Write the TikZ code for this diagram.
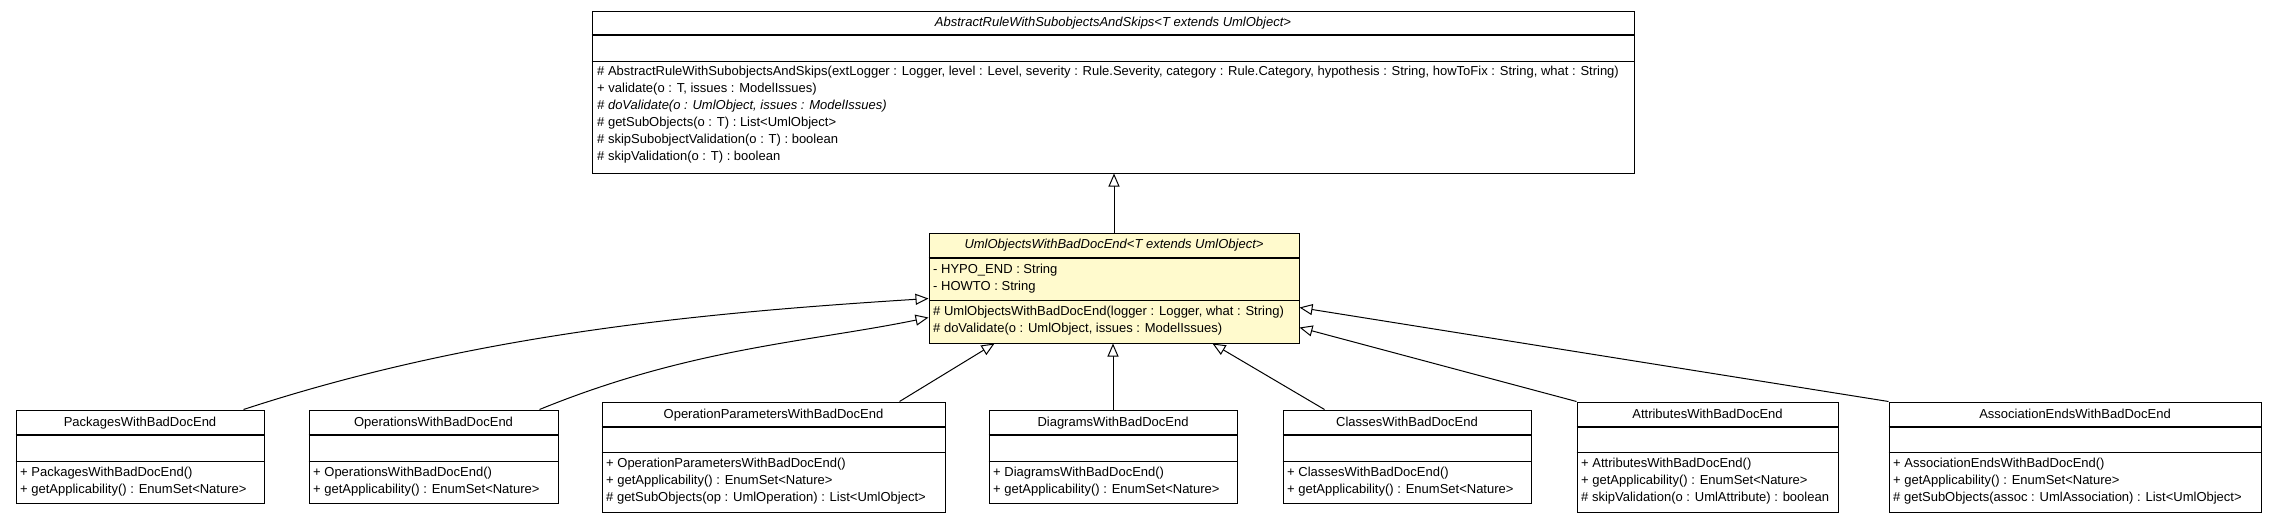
\documentclass[tikz,border=0pt]{standalone}
\usepackage{fontspec}
\setmainfont{Liberation Sans}
\usetikzlibrary{arrows.meta}
\definecolor{lemon}{HTML}{FFFACD}
\tikzset{
  cls/.style={draw=black, line width=1pt, inner sep=0pt, fill=white},
  septhick/.style={line width=1.6pt},
  septhin/.style={line width=1pt},
  txt/.style={font=\fontsize{13}{15}\selectfont, inner sep=0pt, text height=9.8pt, text depth=2.7pt},
  ttl/.style={txt},
  mem/.style={txt, anchor=west},
  gen/.style={line width=1pt, -{Triangle[open, length=13pt, width=11pt, fill=white]}},
}
\begin{document}
\begin{tikzpicture}[x=1pt, y=-1pt]
\useasboundingbox (0,0) rectangle (2278,523);

% ---------- top abstract class ----------
\node[cls, minimum width=1042pt, minimum height=162pt] (A) at (1113,92) {};
\draw[septhick] (A.west |- 0,35) -- (A.east |- 0,35);
\draw[septhin] (A.west |- 0,61) -- (A.east |- 0,61);
\node[ttl] (At) at (1113,23) {\itshape AbstractRuleWithSubobjectsAndSkips<T extends UmlObject>};
\node[mem] (A1) at (597,72) {\# AbstractRuleWithSubobjectsAndSkips(extLogger : Logger, level : Level, severity : Rule.Severity, category : Rule.Category, hypothesis : String, howToFix : String, what : String)};
\node[mem] (A2) at (597,89) {+ validate(o : T, issues : ModelIssues)};
\node[mem] (A3) at (597,106) {\itshape \# doValidate(o : UmlObject, issues : ModelIssues)};
\node[mem] (A4) at (597,123) {\# getSubObjects(o : T) : List<UmlObject>};
\node[mem] (A5) at (597,140) {\# skipSubobjectValidation(o : T) : boolean};
\node[mem] (A6) at (597,157) {\# skipValidation(o : T) : boolean};

% ---------- middle class ----------
\node[cls, fill=lemon, minimum width=370pt, minimum height=110pt] (M) at (1114,288) {};
\draw[septhick] (M.west |- 0,258) -- (M.east |- 0,258);
\draw[septhin] (M.west |- 0,300) -- (M.east |- 0,300);
\node[ttl] (Mt) at (1114,245) {\itshape UmlObjectsWithBadDocEnd<T extends UmlObject>};
\node[mem] (M1) at (933,270) {- HYPO\_END : String};
\node[mem] (M2) at (933,287) {- HOWTO : String};
\node[mem] (M3) at (933,312) {\# UmlObjectsWithBadDocEnd(logger : Logger, what : String)};
\node[mem] (M4) at (933,329) {\# doValidate(o : UmlObject, issues : ModelIssues)};

% ---------- PackagesWithBadDocEnd ----------
\node[cls, minimum width=248pt, minimum height=93pt] (P) at (140,456.5) {};
\draw[septhick] (P.west |- 0,435) -- (P.east |- 0,435);
\draw[septhin] (P.west |- 0,461) -- (P.east |- 0,461);
\node[ttl] (Pt) at (140,422.5) {PackagesWithBadDocEnd};
\node[mem] (P1) at (20,473) {+ PackagesWithBadDocEnd()};
\node[mem] (P2) at (20,490) {+ getApplicability() : EnumSet<Nature>};

% ---------- OperationsWithBadDocEnd ----------
\node[cls, minimum width=249pt, minimum height=93pt] (O) at (433.5,456.5) {};
\draw[septhick] (O.west |- 0,435) -- (O.east |- 0,435);
\draw[septhin] (O.west |- 0,461) -- (O.east |- 0,461);
\node[ttl] (Ot) at (433.5,422.5) {OperationsWithBadDocEnd};
\node[mem] (O1) at (313,473) {+ OperationsWithBadDocEnd()};
\node[mem] (O2) at (313,490) {+ getApplicability() : EnumSet<Nature>};

% ---------- OperationParametersWithBadDocEnd ----------
\node[cls, minimum width=343pt, minimum height=110pt] (OP) at (773.5,457) {};
\draw[septhick] (OP.west |- 0,427) -- (OP.east |- 0,427);
\draw[septhin] (OP.west |- 0,452) -- (OP.east |- 0,452);
\node[ttl] (OPt) at (773.5,414.5) {OperationParametersWithBadDocEnd};
\node[mem] (OP1) at (606,464) {+ OperationParametersWithBadDocEnd()};
\node[mem] (OP2) at (606,481) {+ getApplicability() : EnumSet<Nature>};
\node[mem] (OP3) at (606,498) {\# getSubObjects(op : UmlOperation) : List<UmlObject>};

% ---------- DiagramsWithBadDocEnd ----------
\node[cls, minimum width=248pt, minimum height=93pt] (D) at (1113,456.5) {};
\draw[septhick] (D.west |- 0,435) -- (D.east |- 0,435);
\draw[septhin] (D.west |- 0,461) -- (D.east |- 0,461);
\node[ttl] (Dt) at (1113,422.5) {DiagramsWithBadDocEnd};
\node[mem] (D1) at (993,473) {+ DiagramsWithBadDocEnd()};
\node[mem] (D2) at (993,490) {+ getApplicability() : EnumSet<Nature>};

% ---------- ClassesWithBadDocEnd ----------
\node[cls, minimum width=248pt, minimum height=93pt] (C) at (1407,456.5) {};
\draw[septhick] (C.west |- 0,435) -- (C.east |- 0,435);
\draw[septhin] (C.west |- 0,461) -- (C.east |- 0,461);
\node[ttl] (Ct) at (1407,422.5) {ClassesWithBadDocEnd};
\node[mem] (C1) at (1287,473) {+ ClassesWithBadDocEnd()};
\node[mem] (C2) at (1287,490) {+ getApplicability() : EnumSet<Nature>};

% ---------- AttributesWithBadDocEnd ----------
\node[cls, minimum width=261pt, minimum height=110pt] (AT) at (1707.5,457) {};
\draw[septhick] (AT.west |- 0,427) -- (AT.east |- 0,427);
\draw[septhin] (AT.west |- 0,452) -- (AT.east |- 0,452);
\node[ttl] (ATt) at (1707.5,414.5) {AttributesWithBadDocEnd};
\node[mem] (AT1) at (1581,464) {+ AttributesWithBadDocEnd()};
\node[mem] (AT2) at (1581,481) {+ getApplicability() : EnumSet<Nature>};
\node[mem] (AT3) at (1581,498) {\# skipValidation(o : UmlAttribute) : boolean};

% ---------- AssociationEndsWithBadDocEnd ----------
\node[cls, minimum width=372pt, minimum height=110pt] (AE) at (2075,457) {};
\draw[septhick] (AE.west |- 0,427) -- (AE.east |- 0,427);
\draw[septhin] (AE.west |- 0,452) -- (AE.east |- 0,452);
\node[ttl] (AEt) at (2075,414.5) {AssociationEndsWithBadDocEnd};
\node[mem] (AE1) at (1893,464) {+ AssociationEndsWithBadDocEnd()};
\node[mem] (AE2) at (1893,481) {+ getApplicability() : EnumSet<Nature>};
\node[mem] (AE3) at (1893,498) {\# getSubObjects(assoc : UmlAssociation) : List<UmlObject>};

% ---------- generalizations ----------
\draw[gen] (M.north) -- (M.north |- A.south);
\draw[gen] ([xshift=228pt]P.north west) .. controls (474,334) and (699,313) .. ([yshift=-66pt]M.north west);
\draw[gen] ([xshift=231pt]O.north west) .. controls (690,348) and (809,342) .. ([yshift=-85pt]M.north west);
\draw[gen] ([xshift=298pt]OP.north west) -- ([xshift=66pt]M.south west);
\draw[gen] (D.north) -- (D.north |- M.south);
\draw[gen] ([xshift=42pt]C.north west) -- ([xshift=-87pt]M.south east);
\draw[gen] (AT.north west) -- ([yshift=-95pt]M.north east);
\draw[gen] (AE.north west) -- ([yshift=-75pt]M.north east);
\end{tikzpicture}
\end{document}
